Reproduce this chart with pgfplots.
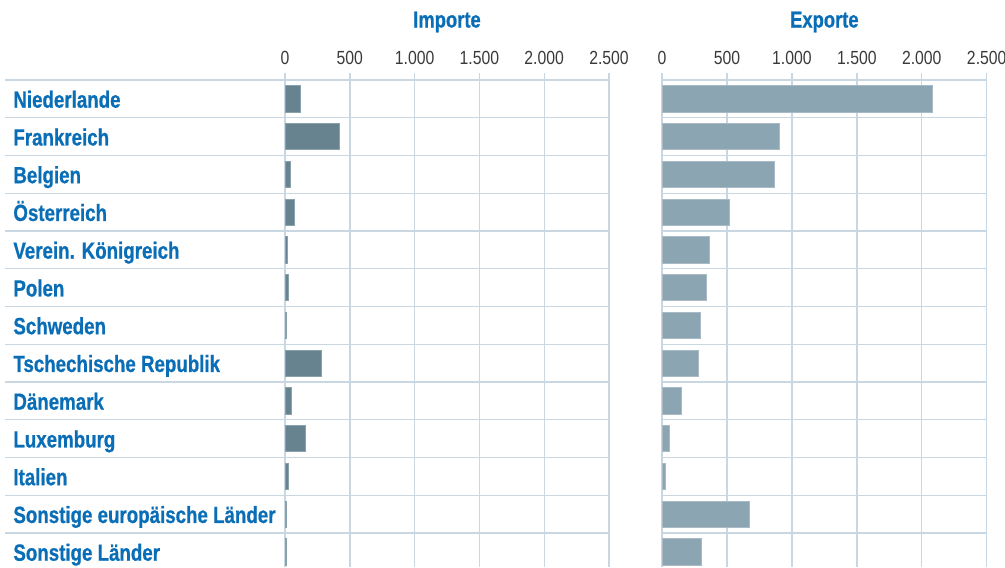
\documentclass[border=0pt]{standalone}
\usepackage{pgfplots}
\pgfplotsset{compat=1.18}
\usepackage{pgfplotstable}
\usepackage{fontspec}
\setmainfont{Liberation Sans}
\newfontfamily\condfont[FakeStretch=0.80, BoldFeatures={FakeBold=0.7}]{Liberation Sans}
\newfontfamily\tickfont[FakeStretch=0.83]{Liberation Sans}
\definecolor{blu}{HTML}{0A6EB6}
\definecolor{gridc}{HTML}{C8D7E1}
\definecolor{impc}{HTML}{66838F}
\definecolor{expc}{HTML}{8BA5B2}
\definecolor{tickc}{HTML}{3A3A3A}

\pgfplotstableread{
idx imports exports
0 115 2081
1 422 903
2 39 867
3 69 518
4 18 367
5 28 339
6 8 298
7 278 277
8 51 146
9 160 59
10 28 26
11 8 670
12 8 303
}\datatab

\pgfplotsset{
 panel/.style={
  scale only axis, height=247pt, clip=false,
  xmin=0, xmax=2500, ymin=-0.6854, ymax=12.4, y dir=reverse,
  axis line style={draw=none},
  xtick={0,500,1000,1500,2000,2500}, xticklabel pos=upper, xmajorgrids, ymajorgrids,
  major grid style={gridc, line width=0.7pt},
  tick style={draw=none},
  xticklabel style={font=\tickfont\fontsize{9.5}{10}\selectfont, text=tickc, anchor=base, inner sep=0pt, yshift=4.35pt},
  /pgf/number format/1000 sep={.},
  /pgf/number format/assume math mode=true,
  ytick={-0.5,0.5,...,11.5}, yticklabels={},
  xbar, bar width=0.69,
 }
}

\begin{document}
\begin{tikzpicture}
\path[use as bounding box] (0,0) rectangle (502.5pt,-283.5pt);

\begin{axis}[panel, at={(142.5pt,-283.5pt)}, anchor=south west, width=162pt,
  extra y ticks={0,1,2,3,4,5,6,7,8,9,10,11,12},
  extra y tick labels={Niederlande,Frankreich,Belgien,\"Osterreich,Verein. K\"onigreich,Polen,Schweden,Tschechische Republik,D\"anemark,Luxemburg,Italien,Sonstige europ\"aische L\"ander,Sonstige L\"ander},
  extra y tick style={major tick length=0pt, ymajorgrids=false,
    yticklabel style={font=\condfont\bfseries\fontsize{11.7}{13}\selectfont, text=blu, anchor=base west, inner sep=0pt, xshift=-136pt, yshift=-4.4pt}},
]
\pgfplotsinvokeforeach{-0.5,0.5,...,11.5}{\draw[gridc, line width=0.7pt] (axis cs:0,#1) -- ([xshift=-140pt]axis cs:0,#1);}
\addplot[xbar, fill=impc, draw=impc!75!white, line width=0.4pt] table[x=imports, y=idx]{\datatab};
\node[font=\condfont\bfseries\fontsize{11.5}{12}\selectfont, text=blu, anchor=base, inner sep=0pt] at ([yshift=22.75pt]rel axis cs:0.5,1) {Importe};
\end{axis}

\begin{axis}[panel, at={(331pt,-283.5pt)}, anchor=south west, width=162.35pt]
\addplot[xbar, fill=expc, draw=expc!75!white, line width=0.4pt] table[x=exports, y=idx]{\datatab};
\node[font=\condfont\bfseries\fontsize{11.5}{12}\selectfont, text=blu, anchor=base, inner sep=0pt] at ([yshift=22.75pt]rel axis cs:0.5,1) {Exporte};
\end{axis}
\end{tikzpicture}
\end{document}
